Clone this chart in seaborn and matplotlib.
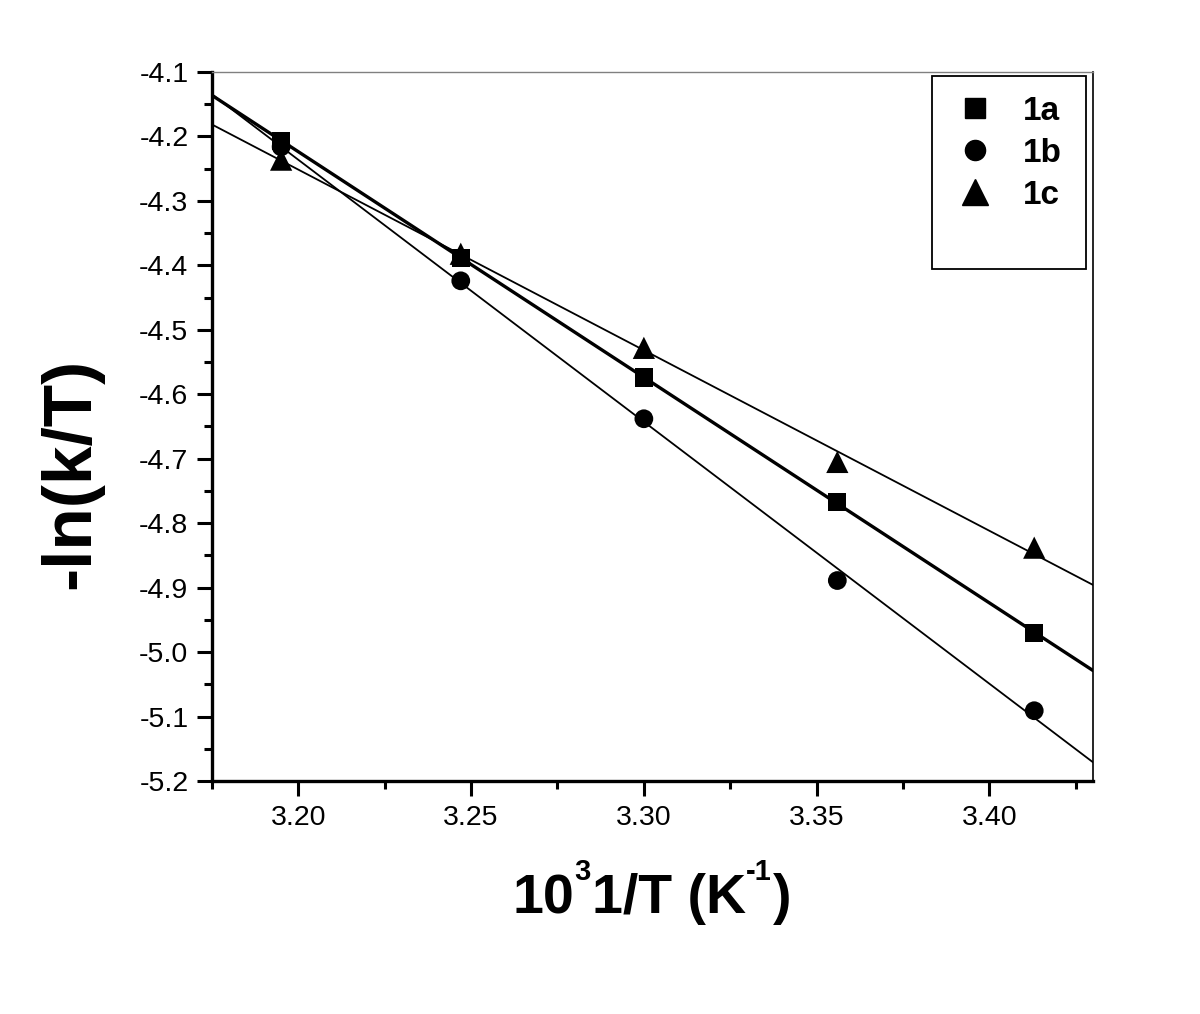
import matplotlib
matplotlib.use("Agg")
import matplotlib.pyplot as plt
import matplotlib.patches as mpatches
from matplotlib.ticker import MultipleLocator, FormatStrFormatter
from matplotlib.transforms import IdentityTransform
import pandas as pd
import seaborn as sns

inv_T = [3.195, 3.247, 3.300, 3.356, 3.413]
y_1a = [-4.207, -4.388, -4.574, -4.767, -4.971]
y_1b = [-4.216, -4.424, -4.638, -4.889, -5.091]
y_1c = [-4.236, -4.382, -4.528, -4.705, -4.838]
series = ["1a", "1b", "1c"]

df = pd.DataFrame({
    "x": inv_T * 3,
    "y": y_1a + y_1b + y_1c,
    "sample": [s for s in series for _ in inv_T],
})

sns.set_style("ticks")
plt.rcParams["font.family"] = ["Liberation Sans", "DejaVu Sans"]
plt.rcParams["axes.unicode_minus"] = False
for key in ["text.color", "axes.labelcolor", "xtick.color", "ytick.color",
            "axes.edgecolor"]:
    plt.rcParams[key] = "black"

fig = plt.figure(figsize=(12, 10.14), dpi=100)
ax = fig.add_axes([0.1767, 0.2298, 0.7341, 0.6992])
ax.set_xlim(3.175, 3.43)
ax.set_ylim(-5.2, -4.1)

# fitted lines across the full x range
widths = {"1a": 2.4, "1b": 1.3, "1c": 1.3}
for s in series:
    sub = df[df["sample"] == s]
    sns.regplot(x="x", y="y", data=sub, ax=ax, ci=None, truncate=False,
                scatter=False, color="black",
                line_kws={"linewidth": widths[s]})

markers = {"1a": "s", "1b": "o", "1c": "^"}
msize = {"1a": 13, "1b": 13.5, "1c": 16}
for s in series:
    sns.scatterplot(x="x", y="y", data=df[df["sample"] == s],
                    marker=markers[s], color="black", s=msize[s] ** 2,
                    edgecolor="none", ax=ax, legend=False, zorder=5)

ax.set_xlim(3.175, 3.43)
ax.set_ylim(-5.2, -4.1)

ax.xaxis.set_major_locator(MultipleLocator(0.05))
ax.xaxis.set_minor_locator(MultipleLocator(0.025))
ax.yaxis.set_major_locator(MultipleLocator(0.1))
ax.yaxis.set_minor_locator(MultipleLocator(0.05))
ax.xaxis.set_major_formatter(FormatStrFormatter("%.2f"))
ax.yaxis.set_major_formatter(FormatStrFormatter("%.1f"))
ax.tick_params(which="major", length=11, width=2.2, labelsize=20.5,
               direction="out", pad=6)
ax.tick_params(which="minor", length=6, width=2.2, direction="out")
ax.tick_params(top=False, right=False, which="both")
ax.set_xlabel("")
ax.set_ylabel("")

for side in ["left", "bottom"]:
    ax.spines[side].set_linewidth(2.4)
ax.spines["top"].set_linewidth(1.0)
ax.spines["top"].set_color("#808080")
ax.spines["right"].set_linewidth(1.2)

ax.set_ylabel("-ln(k/T)", fontsize=50, fontweight="bold")
ax.yaxis.set_label_coords(-0.124, 0.434)

# x label with small raised exponents, built piece by piece
renderer = fig.canvas.get_renderer()
pieces = [("10", 40, 0), ("3", 21, 33), ("1/T (K", 40, 0), ("-1", 21, 33),
          (")", 40, 0)]
base_y = 1014 - 913
xpos = 0.0
texts = []
for txt, size, rise in pieces:
    t = fig.text(xpos, base_y + rise, txt, fontsize=size, fontweight="bold",
                 va="baseline", ha="left", transform=IdentityTransform())
    texts.append(t)
    xpos += t.get_window_extent(renderer).width + (1 if rise else 0)
shift = 652 - xpos / 2
for t in texts:
    x0, y0 = t.get_position()
    t.set_position((x0 + shift, y0))

# legend with its frame drawn separately
box = mpatches.Rectangle((0.817, 0.722), 0.175, 0.272, transform=ax.transAxes,
                         fill=False, edgecolor="black", linewidth=1.3, zorder=6)
ax.add_patch(box)
leg_size = {"1a": 14, "1b": 14.5, "1c": 19}
handles = [plt.Line2D([], [], marker=markers[s], color="black", linestyle="none",
                      markersize=leg_size[s]) for s in series]
ax.legend(handles, series, loc="upper left", bbox_to_anchor=(0.8324, 0.985),
          frameon=False, prop={"weight": "bold", "size": 24},
          handlelength=1.0, handletextpad=0.92, labelspacing=0.33,
          borderaxespad=0)

plt.savefig("out.png", dpi=100)
